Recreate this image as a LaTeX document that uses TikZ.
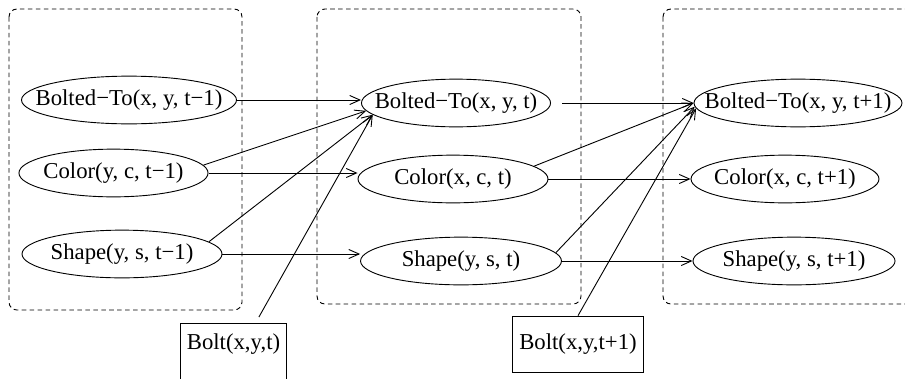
\documentclass[tikz,border=0pt]{standalone}
\usepackage{fontspec}
\setmainfont{Liberation Serif}
\usetikzlibrary{shapes.geometric,arrows.meta,positioning}
\tikzstyle{arrow} = [thin, -{Straight Barb[length=4.5pt,width=4pt]}]
\tikzset{
    fluent/.style={
        ellipse, draw, thin,
        inner sep=0pt,
        minimum height=21pt, minimum width=#1
    },
    evidence/.style={
        rectangle, draw, thin,
        inner sep=0pt
    },
    timeslice/.style={
        draw, thin, rounded corners=3.5pt,
        dash pattern=on 2pt off 1.5pt
    }
}
\newcommand{\flabel}[1]{\makebox[0pt]{#1}}

\begin{document}
\begin{tikzpicture}[x=0.44pt,y=-0.44pt]
    \clip (0,0) rectangle (905,378);
    % time slices
    \draw[timeslice] (9,9) rectangle (242,310);
    \draw[timeslice] (317,9) rectangle (581,304);
    \draw[timeslice] (663,9) rectangle (930,304);

    % slice t-1
    \node[fluent=94.6pt] (bt1) at (129,100) {\flabel{Bolted−To(x, y, t−1)}};
    \node[fluent=83.2pt] (co1) at (113.5,173) {\flabel{Color(y, c, t−1)}};
    \node[fluent=88pt]   (sh1) at (122,254) {\flabel{Shape(y, s, t−1)}};

    % slice t
    \node[fluent=83.2pt] (bt2) at (456,103) {\flabel{Bolted−To(x, y, t)}};
    \node[fluent=83.6pt] (co2) at (453,179) {\flabel{Color(x, c, t)}};
    \node[fluent=88.4pt] (sh2) at (461,261) {\flabel{Shape(y, s, t)}};

    % slice t+1
    \node[fluent=91.5pt] (bt3) at (798,103) {\flabel{Bolted−To(x, y, t+1)}};
    \node[fluent=82.7pt] (co3) at (785,179) {\flabel{Color(x, c, t+1)}};
    \node[fluent=88.9pt] (sh3) at (794,261) {\flabel{Shape(y, s, t+1)}};

    % bolt events
    \node[evidence, anchor=north, minimum width=47pt,
          text height=11.3pt, text depth=16pt] (bolt1) at (233.5,323) {Bolt(x,y,t)};
    \node[evidence, minimum width=58pt, minimum height=25pt] (bolt2) at (578,344.5) {Bolt(x,y,t+1)};

    % t-1 -> t
    \draw[arrow] (bt1.east) -- (bt1.east -| bt2.west);
    \draw[arrow] (co1.5) -- (bt2.185);
    \draw[arrow] (co1.east) -- (co1.east -| co2.west);
    \draw[arrow] (sh1.8) -- (bt2.188);
    \draw[arrow] (sh1.east) -- (sh1.east -| sh2.west);
    \draw[arrow, shorten <=3pt] (bolt1.55) -- (bt2.188);

    % t -> t+1
    \draw[arrow, shorten <=5pt] (bt2.east) -- (bt3.west);
    \draw[arrow] (co2.9) -- (bt3.west);
    \draw[arrow] (co2.east) -- (co3.west);
    \draw[arrow] (sh2.5) -- (bt3.182);
    \draw[arrow] (sh2.east) -- (sh3.west);
    \draw[arrow, shorten <=0pt] (bolt2.north) -- (bt3.183);
\end{tikzpicture}
\end{document}
